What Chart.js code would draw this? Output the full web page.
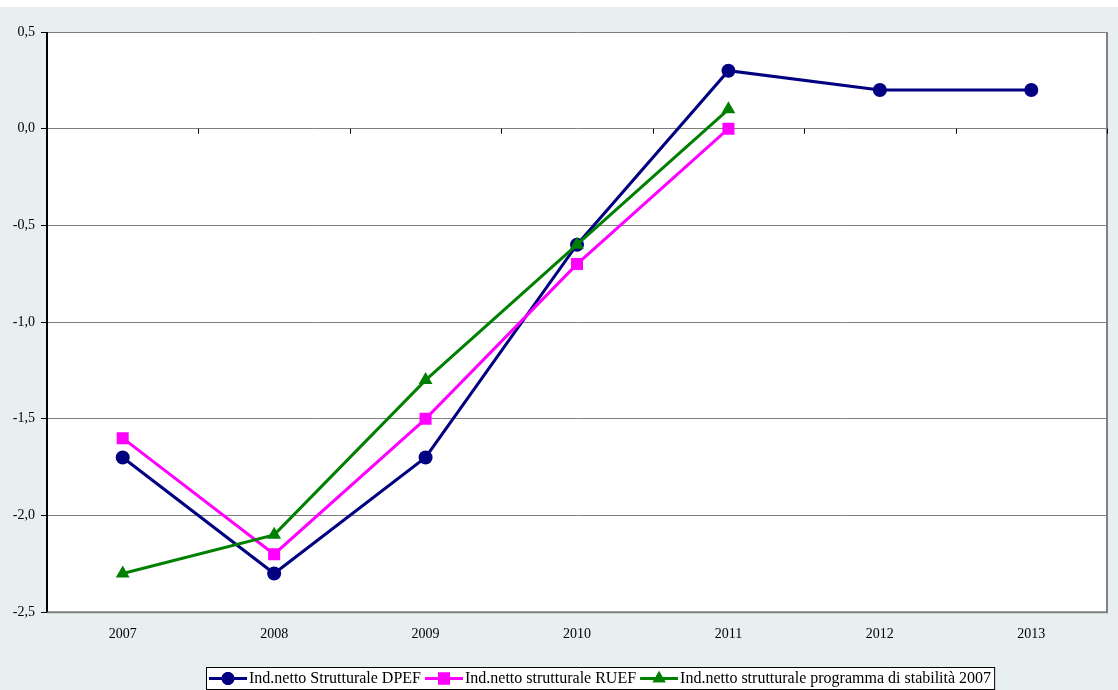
<!DOCTYPE html>
<html>
<head>
<meta charset="utf-8">
<script src="https://cdn.jsdelivr.net/npm/chart.js@4/dist/chart.umd.min.js"></script>
<style>
  html, body { margin: 0; padding: 0; background: #ffffff; }
  #wrap { position: absolute; left: 0; top: 7px; width: 1118px; height: 683px; }
</style>
</head>
<body>
<div id="wrap"><canvas id="lineChart"></canvas></div>
<script>
const years = ['2007', '2008', '2009', '2010', '2011', '2012', '2013'];
const dpef = [-1.7, -2.3, -1.7, -0.6, 0.3, 0.2, 0.2];
const ruef = [-1.6, -2.2, -1.5, -0.7, 0.0, null, null];
const stabilita = [-2.3, -2.1, -1.3, -0.6, 0.1, null, null];
const seriesNames = [
  'Ind.netto Strutturale DPEF',
  'Ind.netto strutturale RUEF',
  'Ind.netto strutturale programma di stabilità 2007'
];

const FONT = '"Liberation Serif", "Times New Roman", serif';

// light panel behind everything, white plot area
const backgroundPlugin = {
  id: 'panelBg',
  beforeDraw(chart) {
    const { ctx, chartArea } = chart;
    ctx.save();
    ctx.fillStyle = '#e8eff1';
    ctx.fillRect(0, 0, chart.width, chart.height);
    ctx.fillStyle = '#ffffff';
    ctx.fillRect(chartArea.left, chartArea.top, chartArea.right - chartArea.left, chartArea.bottom - chartArea.top);
    ctx.restore();
  }
};

// frame, y axis line and small ticks on the zero line between categories
const framePlugin = {
  id: 'frame',
  afterDatasetsDraw(chart) {
    const { ctx, chartArea, scales } = chart;
    const y0 = scales.y.getPixelForValue(0);
    const step = (chartArea.right - chartArea.left) / years.length;
    ctx.save();
    ctx.strokeStyle = '#808080';
    ctx.lineWidth = 2;
    ctx.beginPath();
    ctx.moveTo(chartArea.left, chartArea.bottom);
    ctx.lineTo(chartArea.right, chartArea.bottom);
    ctx.lineTo(chartArea.right, chartArea.top);
    ctx.stroke();
    ctx.strokeStyle = '#000000';
    ctx.lineWidth = 1;
    ctx.beginPath();
    for (let i = 1; i <= years.length; i++) {
      const x = Math.round(chartArea.left + i * step) + 0.5;
      ctx.moveTo(x, y0);
      ctx.lineTo(x, y0 + 5);
    }
    ctx.stroke();
    ctx.lineWidth = 2;
    ctx.beginPath();
    ctx.moveTo(chartArea.left, chartArea.top);
    ctx.lineTo(chartArea.left, chartArea.bottom);
    ctx.stroke();
    ctx.restore();
  }
};

// excel-like legend: boxed, line with marker for each series
const legendPlugin = {
  id: 'boxLegend',
  afterDraw(chart) {
    const { ctx } = chart;
    const styles = [
      { color: '#000080', point: 'circle', r: 6.5 },
      { color: '#ff00ff', point: 'rect', r: 8.5 },
      { color: '#008000', point: 'triangle', r: 7.5 }
    ];
    ctx.save();
    ctx.font = '16px ' + FONT;
    const sampleW = 38;
    const gap = 2;
    const widths = seriesNames.map(n => sampleW + gap + ctx.measureText(n).width);
    const total = widths.reduce((a, b) => a + b, 0) + 4 * (seriesNames.length - 1) + 6;
    const boxLeft = Math.round(600 - total / 2);
    const boxTop = 660;
    const boxH = 22;
    ctx.fillStyle = '#ffffff';
    ctx.fillRect(boxLeft, boxTop, total, boxH);
    ctx.strokeStyle = '#000000';
    ctx.lineWidth = 1;
    ctx.strokeRect(boxLeft + 0.5, boxTop + 0.5, total, boxH);
    let x = boxLeft + 3;
    const cy = boxTop + boxH / 2 + 0.5;
    seriesNames.forEach((name, i) => {
      const s = styles[i];
      ctx.strokeStyle = s.color;
      ctx.lineWidth = 3;
      ctx.beginPath();
      ctx.moveTo(x, cy);
      ctx.lineTo(x + sampleW, cy);
      ctx.stroke();
      ctx.fillStyle = s.color;
      Chart.helpers.drawPoint(ctx, { pointStyle: s.point, radius: s.r, borderWidth: 0, rotation: 0 }, x + sampleW / 2, cy);
      ctx.fill();
      ctx.fillStyle = '#000000';
      ctx.textBaseline = 'middle';
      ctx.fillText(name, x + sampleW + gap, cy);
      x += widths[i] + 4;
    });
    ctx.restore();
  }
};

function makeSet(label, data, color, pointStyle, radius, order) {
  return {
    label: label,
    data: data,
    borderColor: color,
    backgroundColor: color,
    pointBackgroundColor: color,
    pointBorderColor: color,
    pointBorderWidth: 0,
    pointStyle: pointStyle,
    pointRadius: radius,
    borderWidth: 3,
    tension: 0,
    spanGaps: false,
    order: order
  };
}

const ctx = document.getElementById('lineChart').getContext('2d');
const lineChart = new Chart(ctx, {
  type: 'line',
  data: {
    labels: years,
    datasets: [
      makeSet(seriesNames[0], dpef, '#000080', 'circle', 7, 3),
      makeSet(seriesNames[1], ruef, '#ff00ff', 'rect', 8.5, 2),
      makeSet(seriesNames[2], stabilita, '#008000', 'triangle', 8, 1)
    ]
  },
  options: {
    responsive: true,
    maintainAspectRatio: false,
    animation: false,
    layout: {
      padding: { left: 0, right: 11, top: 25, bottom: 33 }
    },
    scales: {
      x: {
        offset: true,
        grid: { display: false, drawTicks: false },
        border: { display: false },
        ticks: {
          color: '#000000',
          font: { family: FONT, size: 14 },
          padding: 14,
          maxRotation: 0
        }
      },
      y: {
        min: -2.5,
        max: 0.5,
        afterBuildTicks(axis) {
          axis.ticks = [0.5, 0, -0.5, -1, -1.5, -2, -2.5].map(v => ({ value: v }));
        },
        grid: {
          color: '#7f7f7f',
          lineWidth: 1,
          tickLength: 6,
          tickColor: '#000000'
        },
        border: { display: true, color: '#000000' },
        ticks: {
          color: '#000000',
          font: { family: FONT, size: 14 },
          padding: 6,
          callback: v => v.toFixed(1).replace('.', ',')
        },
        afterFit(axis) { axis.width = 47; }
      }
    },
    plugins: {
      legend: { display: false },
      tooltip: { enabled: false }
    }
  },
  plugins: [backgroundPlugin, framePlugin, legendPlugin]
});
</script>
</body>
</html>
